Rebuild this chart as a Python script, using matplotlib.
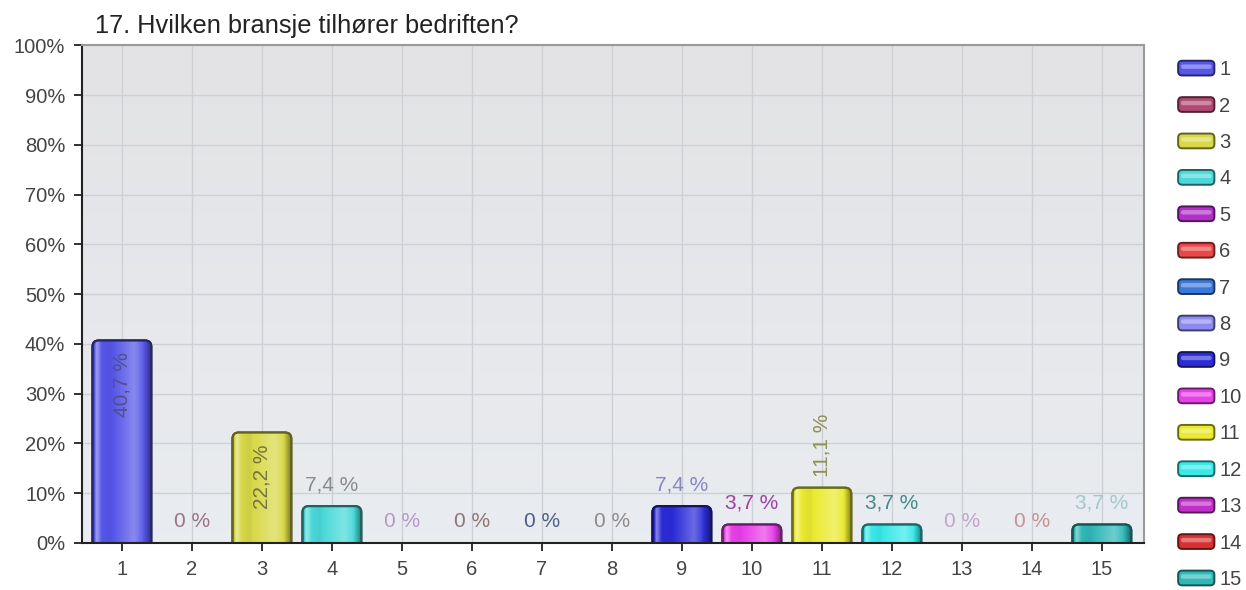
# Diagram: 17. Hvilken bransje tilhører bedriften?
import numpy as np
import matplotlib
matplotlib.use("Agg")
import matplotlib.pyplot as plt
from matplotlib.patches import FancyBboxPatch, Patch
from matplotlib.legend_handler import HandlerPatch
from matplotlib.colors import to_rgb

plt.rcParams['font.family'] = ['Liberation Sans', 'DejaVu Sans']

# Data
kategorier = [str(i) for i in range(1, 16)]
verdier = [40.7, 0, 22.2, 7.4, 0, 0, 0, 0, 7.4, 3.7, 11.1, 3.7, 0, 0, 3.7]
etiketter = ['40,7 %', '0 %', '22,2 %', '7,4 %', '0 %', '0 %', '0 %', '0 %',
             '7,4 %', '3,7 %', '11,1 %', '3,7 %', '0 %', '0 %', '3,7 %']
farger = ['#5656e8', '#b04a72', '#d8d848', '#4ad8d8', '#b030c8', '#e84848',
          '#3a78d8', '#8a8af0', '#2c2cd8', '#e840e8', '#eaea30', '#3ae8e8',
          '#c030c8', '#d83030', '#30b8b8']
tekstfarger = ['#50508a', '#9a7484', '#74743e', '#8a8a8a', '#b898c8', '#8e7676',
               '#4e6084', '#908a8a', '#8686c4', '#a040a4', '#8e8e52', '#448a8a',
               '#c4a4cc', '#c49494', '#a4c8c8']
# 'inn' = rotert inne i stolpen, 'opp' = rotert over, 'h' = horisontal over
plassering = ['inn', 'h', 'inn', 'h', 'h', 'h', 'h', 'h', 'h', 'h', 'opp', 'h', 'h', 'h', 'h']


def shade(c, f):
    c = np.array(to_rgb(c))
    if f < 1:
        return c * f
    return c + (1 - c) * (f - 1)


def gradient(c, n=64):
    stops = [0, 0.07, 0.16, 0.3, 0.72, 0.86, 1.0]
    fac = [0.45, 1.45, 1.0, 0.95, 1.3, 1.08, 0.6]
    t = np.linspace(0, 1, n)
    f = np.interp(t, stops, fac)
    return np.array([[shade(c, v) for v in f]])


fig = plt.figure(figsize=(12.46, 5.9), dpi=100)
ax = fig.add_axes([0.0658, 0.0797, 0.918 - 0.0658, 0.923 - 0.0797])

# bakgrunn med svak gradient
bg = np.linspace(0, 1, 50)[:, None]
top = np.array(to_rgb('#e9ecf0'))
bot = np.array(to_rgb('#e3e3e5'))
bgimg = top[None, None, :] * (1 - bg[..., None]) + bot[None, None, :] * bg[..., None]
ax.imshow(bgimg, extent=(0.43, 15.6, 100, 0), aspect='auto', zorder=0)

x = np.arange(1, 16)
bars = ax.bar(x, verdier, width=0.84, color='none', edgecolor='none', zorder=2)

# px per data unit
px_x = (1144 - 82) / (15.6 - 0.43)
px_y = (543 - 45.5) / 100.0
aspect = px_x / px_y

for b, c in zip(bars, farger):
    h = b.get_height()
    if h <= 0:
        continue
    x0, w = b.get_x(), b.get_width()
    patch = FancyBboxPatch((x0, -3), w, h + 3,
                           boxstyle="round,pad=0,rounding_size=0.09",
                           mutation_aspect=aspect,
                           facecolor=c, edgecolor=shade(c, 0.45), linewidth=1.6,
                           zorder=3)
    ax.add_patch(patch)
    im = ax.imshow(gradient(c), extent=(x0, x0 + w, -3, h), aspect='auto',
                   zorder=3.5, interpolation='bilinear')
    im.set_clip_path(patch)
    edge = FancyBboxPatch((x0, -3), w, h + 3,
                          boxstyle="round,pad=0,rounding_size=0.09",
                          mutation_aspect=aspect,
                          facecolor='none', edgecolor=shade(c, 0.45), linewidth=1.6,
                          zorder=4)
    ax.add_patch(edge)

for xi, v, lab, tc, pl in zip(x, verdier, etiketter, tekstfarger, plassering):
    if pl == 'inn':
        ax.annotate(lab, (xi, v), xytext=(0, -12), textcoords='offset pixels',
                    rotation=90, ha='center', va='top', color=tc, fontsize=15, zorder=5)
    elif pl == 'opp':
        ax.annotate(lab, (xi, v), xytext=(0, 11), textcoords='offset pixels',
                    rotation=90, ha='center', va='bottom', color=tc, fontsize=15, zorder=5)
    else:
        ax.annotate(lab, (xi, v), xytext=(0, 12), textcoords='offset pixels',
                    ha='center', va='bottom', color=tc, fontsize=15, zorder=5)

ax.set_xlim(0.43, 15.6)
ax.set_ylim(0, 100)
ax.set_xticks(x)
ax.set_xticklabels(kategorier)
ax.set_yticks(np.arange(0, 101, 10))
ax.set_yticklabels([f'{t}%' for t in range(0, 101, 10)])
ax.grid(True, color='#cdd0d4', linewidth=1, zorder=1)
ax.set_axisbelow(True)
ax.tick_params(direction='out', length=6, width=1.3, colors='#222222',
               labelcolor='#444444', labelsize=14.5, pad=6)
for s in ['left', 'bottom']:
    ax.spines[s].set_color('#222222')
    ax.spines[s].set_linewidth(1.5)
for s in ['top', 'right']:
    ax.spines[s].set_color('#9a9a9a')
    ax.spines[s].set_linewidth(1.5)
for s in ax.spines.values():
    s.set_zorder(6)

fig.text(95 / 1246, 1 - 33 / 590, '17. Hvilken bransje tilhører bedriften?',
         fontsize=18.3, color='#222222', ha='left', va='baseline')


class RoundHandler(HandlerPatch):
    def create_artists(self, legend, orig_handle, xdescent, ydescent,
                       width, height, fontsize, trans):
        c = orig_handle.get_facecolor()
        base = FancyBboxPatch((-xdescent, -ydescent), width, height,
                              boxstyle="round,pad=0,rounding_size=3",
                              facecolor=c, edgecolor=shade(c[:3], 0.45),
                              linewidth=1.4, transform=trans)
        hl = FancyBboxPatch((-xdescent + 2, -ydescent + height * 0.45), width - 4,
                            height * 0.3, boxstyle="round,pad=0,rounding_size=1.5",
                            facecolor=shade(c[:3], 1.35), edgecolor='none',
                            transform=trans)
        return [base, hl]


handles = [Patch(facecolor=c) for c in farger]
fig.legend(handles, kategorier, loc='upper left',
           bbox_to_anchor=(1160 / 1246, 1 - 42 / 590), frameon=False,
           fontsize=14.5, labelcolor='#444444', handlelength=1.8,
           handleheight=0.75, handletextpad=0.25, labelspacing=0.865,
           handler_map={Patch: RoundHandler()})

fig.savefig('out.png', dpi=100, facecolor='white')
